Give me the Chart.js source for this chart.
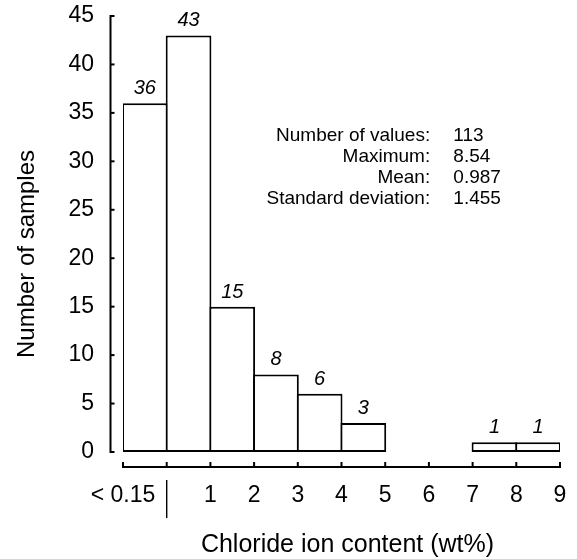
<!DOCTYPE html>
<html>
<head>
<meta charset="utf-8">
<script src="https://cdn.jsdelivr.net/npm/chart.js@4"></script>
<style>
  html, body { margin: 0; padding: 0; background: #fff; }
</style>
</head>
<body>
<canvas id="c" width="577" height="559"></canvas>
<script>
// ---- data ----
const binLabels = ['< 0.15', '0.15–1', '1–2', '2–3', '3–4', '4–5', '5–6', '6–7', '7–8', '8–9'];
const binCenters = [-0.5, 0.5, 1.5, 2.5, 3.5, 4.5, 5.5, 6.5, 7.5, 8.5];
const counts = [36, 43, 15, 8, 6, 3, 0, 0, 1, 1];
const xTickValues = [-1, 1, 2, 3, 4, 5, 6, 7, 8, 9];
const xTickLabels = ['< 0.15', '1', '2', '3', '4', '5', '6', '7', '8', '9'];
const xAxisMarks = [-1, 0, 1, 2, 3, 4, 5, 6, 7, 8, 9];
const xSeparatorValue = 0;
const yMin = 0, yMax = 45, yStep = 5;
const statLabels = ['Number of values:', 'Maximum:', 'Mean:', 'Standard deviation:'];
const statValues = ['113', '8.54', '0.987', '1.455'];
const xTitle = 'Chloride ion content (wt%)';
const yTitle = 'Number of samples';

const FONT = '"Liberation Sans", Arial, Helvetica, sans-serif';
const INK = '#000';

const points = binCenters.map((x, i) => ({ x: x, y: counts[i] === 0 ? null : counts[i] }));

const customAxes = {
  id: 'customAxes',
  afterDatasetsDraw(chart) {
    const { ctx, chartArea, scales } = chart;
    const xs = scales.x, ys = scales.y;
    ctx.save();
    ctx.strokeStyle = INK;
    ctx.fillStyle = INK;
    // y axis (offset left)
    const ax = chartArea.left - 12.5;
    ctx.lineWidth = 2;
    ctx.beginPath();
    ctx.moveTo(ax, ys.getPixelForValue(yMin) + 1);
    ctx.lineTo(ax, ys.getPixelForValue(yMax) - 1);
    ctx.stroke();
    for (let v = yMin; v <= yMax; v += yStep) {
      const py = ys.getPixelForValue(v);
      ctx.beginPath();
      ctx.moveTo(ax, py);
      ctx.lineTo(ax + 4, py);
      ctx.stroke();
    }
    // x axis (offset below)
    const ay = chartArea.bottom + 15;
    ctx.beginPath();
    ctx.moveTo(xs.getPixelForValue(xAxisMarks[0]) - 1, ay);
    ctx.lineTo(xs.getPixelForValue(xAxisMarks[xAxisMarks.length - 1]) + 1, ay);
    ctx.stroke();
    xAxisMarks.forEach(v => {
      const px = xs.getPixelForValue(v);
      ctx.beginPath();
      ctx.moveTo(px, ay);
      ctx.lineTo(px, ay - 5);
      ctx.stroke();
    });
    // separator between "< 0.15" and the numeric ticks
    const sx = xs.getPixelForValue(xSeparatorValue);
    ctx.lineWidth = 1.4;
    ctx.beginPath();
    ctx.moveTo(sx, chartArea.bottom + 28);
    ctx.lineTo(sx, chartArea.bottom + 66);
    ctx.stroke();

    // value labels above bars
    const meta = chart.getDatasetMeta(0);
    ctx.font = 'italic 20px ' + FONT;
    ctx.textAlign = 'center';
    ctx.textBaseline = 'alphabetic';
    meta.data.forEach((el, i) => {
      if (counts[i] > 0) ctx.fillText(String(counts[i]), el.x, el.y - 9);
    });

    // statistics block
    ctx.font = '19px ' + FONT;
    const lx = xs.getPixelForValue(6.03);
    const vx = xs.getPixelForValue(6.56);
    statLabels.forEach((lab, i) => {
      const by = 141 + i * 21;
      ctx.textAlign = 'right';
      ctx.fillText(lab, lx, by);
      ctx.textAlign = 'left';
      ctx.fillText(statValues[i], vx, by);
    });

    // x axis title
    ctx.font = '25px ' + FONT;
    ctx.textAlign = 'center';
    ctx.textBaseline = 'alphabetic';
    ctx.fillText(xTitle, (chartArea.left + chartArea.right) / 2 + 6, chartArea.bottom + 100);

    // y axis title
    ctx.font = '24px ' + FONT;
    ctx.textAlign = 'center';
    ctx.textBaseline = 'middle';
    ctx.translate(27, (chartArea.top + chartArea.bottom) / 2 + 20);
    ctx.rotate(-Math.PI / 2);
    ctx.fillText(yTitle, 0, 0);
    ctx.restore();
  }
};

new Chart(document.getElementById('c'), {
  type: 'bar',
  data: {
    labels: binLabels,
    datasets: [{
      label: 'Number of samples',
      data: points,
      backgroundColor: '#fff',
      borderColor: INK,
      borderWidth: 2,
      borderSkipped: false,
      inflateAmount: 0,
      barPercentage: 1.046,
      categoryPercentage: 1
    }]
  },
  options: {
    responsive: false,
    animation: false,
    devicePixelRatio: 1,
    layout: { padding: { left: 0, right: 17, top: 16, bottom: 0 } },
    plugins: { legend: { display: false }, tooltip: { enabled: false } },
    scales: {
      x: {
        type: 'linear',
        min: -1,
        max: 9,
        offset: false,
        grid: { display: false, drawTicks: false },
        border: { display: false },
        afterBuildTicks(scale) {
          scale.ticks = xTickValues.map(v => ({ value: v }));
        },
        afterFit(scale) {
          scale.height = 107;
          scale.paddingLeft = 0;
          scale.paddingRight = 0;
        },
        ticks: {
          autoSkip: false,
          maxRotation: 0,
          padding: 30,
          color: INK,
          font: { family: FONT, size: 23 },
          callback(value) {
            const i = xTickValues.indexOf(value);
            return i >= 0 ? xTickLabels[i] : '';
          }
        },
        title: { display: false, text: xTitle }
      },
      y: {
        min: yMin,
        max: yMax,
        grid: { display: false, drawTicks: false },
        border: { display: false },
        afterFit(scale) {
          scale.width = 123;
          scale.paddingTop = 0;
          scale.paddingBottom = 0;
        },
        ticks: {
          stepSize: yStep,
          padding: 29,
          color: INK,
          font: { family: FONT, size: 23 }
        },
        title: { display: false, text: yTitle }
      }
    }
  },
  plugins: [customAxes]
});
</script>
</body>
</html>
